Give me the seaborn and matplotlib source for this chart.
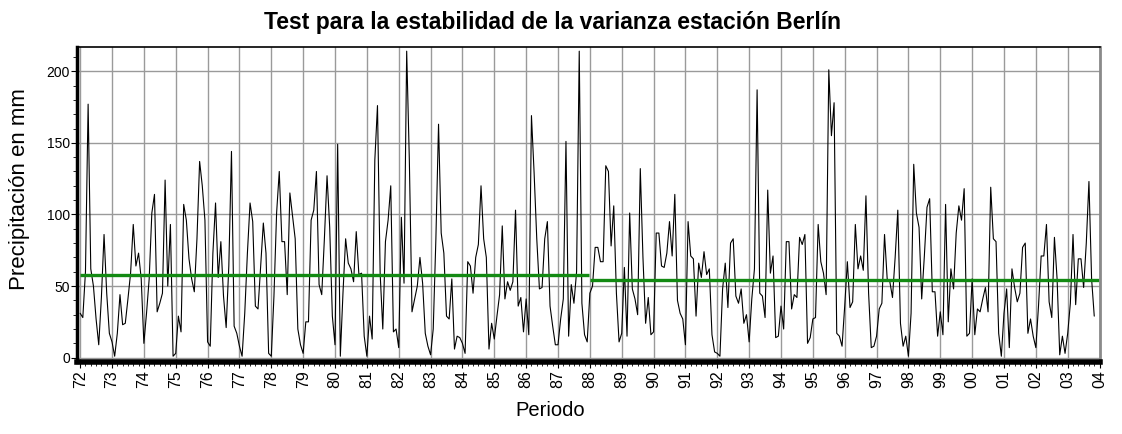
import numpy as np
import pandas as pd
import matplotlib
matplotlib.use("Agg")
import matplotlib.pyplot as plt
import seaborn as sns
from matplotlib.ticker import MultipleLocator

# monthly precipitation (mm), Berlin, Jan 1972 onwards
precip = [
    31, 28, 60, 177, 62, 50, 27, 9, 42, 86, 45, 17, 11, 1, 17, 44, 23, 24, 41, 59,
    93, 64, 73, 55, 10, 31, 55, 101, 114, 32, 38, 45, 124, 50, 93, 1, 3, 29, 18, 107,
    96, 69, 55, 46, 83, 137, 120, 96, 11, 8, 73, 108, 56, 81, 43, 21, 64, 144, 22, 17,
    8, 1, 31, 73, 108, 95, 36, 34, 64, 94, 73, 3, 1, 43, 101, 130, 81, 81, 44, 115,
    99, 83, 20, 9, 3, 25, 25, 96, 103, 130, 51, 44, 83, 127, 91, 29, 9, 149, 1, 45,
    83, 66, 62, 53, 88, 58, 59, 15, 1, 29, 13, 138, 176, 59, 20, 81, 96, 120, 18, 20,
    7, 98, 52, 214, 138, 32, 41, 50, 70, 52, 17, 8, 2, 20, 83, 163, 87, 73, 29, 27,
    55, 6, 15, 14, 10, 3, 67, 64, 45, 70, 79, 120, 83, 70, 6, 24, 13, 29, 44, 92,
    41, 53, 47, 53, 103, 36, 42, 18, 41, 16, 169, 129, 83, 48, 49, 83, 95, 36, 22, 9,
    9, 27, 41, 151, 15, 51, 38, 60, 214, 38, 16, 11, 45, 50, 77, 77, 67, 67, 134, 130,
    78, 106, 45, 11, 17, 63, 15, 101, 48, 41, 30, 132, 70, 24, 42, 16, 18, 87, 87, 64,
    63, 73, 95, 71, 114, 40, 31, 27, 9, 95, 71, 69, 29, 66, 56, 74, 58, 62, 16, 4,
    3, 1, 48, 66, 35, 80, 83, 43, 38, 48, 24, 30, 11, 41, 62, 187, 45, 43, 28, 117,
    59, 71, 14, 15, 36, 20, 81, 81, 34, 44, 42, 84, 79, 86, 10, 14, 27, 28, 93, 67,
    59, 44, 201, 155, 178, 17, 15, 8, 36, 67, 35, 39, 93, 62, 71, 61, 113, 45, 7, 8,
    15, 34, 38, 86, 55, 53, 42, 70, 103, 24, 8, 15, 1, 31, 135, 101, 91, 41, 71, 105,
    111, 46, 46, 15, 32, 16, 107, 25, 62, 48, 87, 106, 96, 118, 15, 17, 55, 16, 34, 32,
    41, 49, 32, 119, 83, 81, 17, 1, 31, 48, 7, 62, 49, 39, 45, 77, 80, 17, 27, 15,
    7, 36, 71, 71, 93, 39, 28, 84, 55, 2, 15, 3, 17, 38, 86, 37, 69, 69, 49, 80,
    123, 55, 29,
]

# mean of each sub-period (mm)
periods = [(1972, 1988), (1988, 2004)]
period_means = [57.5, 54.0]

year_ticks = list(range(1972, 2005))
year_labels = [f"{y % 100:02d}" for y in year_ticks]

df = pd.DataFrame({"fecha": 1972 + np.arange(len(precip)) / 12.0, "precip": precip})

sns.set_style("white")
plt.rcParams["font.family"] = ["Liberation Sans", "DejaVu Sans"]
for k in ["text.color", "axes.labelcolor", "xtick.color", "ytick.color"]:
    plt.rcParams[k] = "black"

fig = plt.figure(figsize=(11.22, 4.34), dpi=100)
ax = fig.add_axes([0.0686, 0.166, 0.9114, 0.726])

sns.lineplot(data=df, x="fecha", y="precip", color="black", linewidth=0.8, ax=ax)

for (x0, x1), m in zip(periods, period_means):
    ax.plot([x0, x1 - 0.02], [m, m], color="#138a13", linewidth=2.4, solid_capstyle="butt")

ax.set_xlim(1971.9, 2004.0)
ax.set_ylim(-3, 217)
ax.set_xticks(year_ticks)
ax.set_xticklabels(year_labels, rotation=90, fontsize=11.5)
ax.xaxis.set_minor_locator(MultipleLocator(2 / 12))
ax.set_yticks([0, 50, 100, 150, 200])
ax.yaxis.set_minor_locator(MultipleLocator(10))
ax.tick_params(axis="y", labelsize=10, length=4, width=0.8, pad=1)
ax.tick_params(axis="x", length=4, width=0.8, pad=2)
ax.tick_params(which="minor", length=3, width=0.6)
ax.tick_params(bottom=True, left=True, which="both")

ax.grid(True, which="major", color="#9a9a9a", linewidth=1.0)
ax.set_axisbelow(True)

ax.spines["left"].set_linewidth(2.5)
ax.spines["bottom"].set_linewidth(4)
ax.spines["top"].set_linewidth(1.2)
ax.spines["right"].set_color("#8a8a8a")
ax.spines["right"].set_linewidth(2)
for s in ["left", "bottom", "top"]:
    ax.spines[s].set_color("black")

ax.set_xlabel("Periodo", fontsize=14.5)
ax.xaxis.set_label_coords((550 - 77) / 1023, -0.125)
ax.set_ylabel("Precipitación en mm", fontsize=16)
ax.yaxis.set_label_coords(-0.046, 0.55)
fig.text(552 / 1122, 1 - 23 / 434,
         "Test para la estabilidad de la varianza estación Berlín",
         fontsize=16.5, fontweight="bold", ha="center", va="center")

fig.savefig("out.png", dpi=100)
